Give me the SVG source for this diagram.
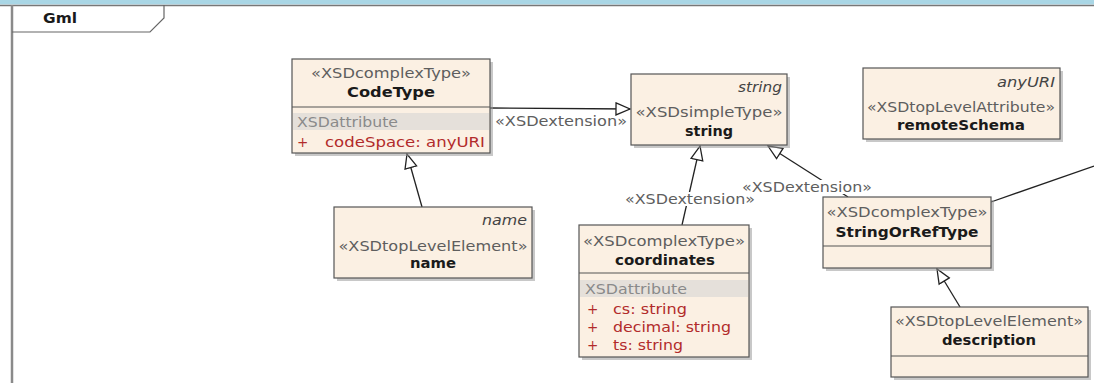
<svg xmlns="http://www.w3.org/2000/svg" width="1094" height="383" viewBox="0 0 1094 383">
<style>
.box{fill:#FBF0E3;stroke:#555;stroke-width:1.2}
.sh{fill:#9a9a9a;opacity:.55}
.div{stroke:#555;stroke-width:1.2}
.band{fill:#E5E0DA}
text{font-family:"DejaVu Sans",Verdana,sans-serif;font-size:13.5px}
.st{fill:#5e5e5e}
.nm{font-weight:bold;fill:#1a1a1a;font-size:14px}
.it{font-style:italic;fill:#444}
.ah{fill:#8a8a8a}
.at{fill:#b22b2b}
.c{text-anchor:middle}
.e{text-anchor:end}
.ln{stroke:#222;stroke-width:1.3;fill:none}
.bg{fill:#fff}
</style>
<defs>
<marker id="gen" viewBox="0 -8 16 16" refX="15" refY="0" markerWidth="16" markerHeight="16" markerUnits="userSpaceOnUse" orient="auto">
<path d="M1,-6 L15,0 L1,6 Z" fill="#fff" stroke="#222" stroke-width="1.3"/>
</marker>
</defs>
<rect width="1094" height="383" fill="#fff"/>
<g id="frame">
<rect x="0" y="0" width="1094" height="4.5" fill="#A9D6E5"/>
<line x1="0" y1="5.5" x2="1094" y2="5.5" stroke="#777" stroke-width="1.5"/>
<line x1="12" y1="5" x2="12" y2="383" stroke="#8a8a8a" stroke-width="2.5"/>
<path d="M12,32 L150,32 L164,18 L164,5" fill="none" stroke="#666" stroke-width="1.2"/>
<text x="43" y="23" class="nm" textLength="34" lengthAdjust="spacingAndGlyphs">Gml</text>
</g>
<g id="connectors">
<line class="ln" x1="490" y1="108" x2="630" y2="109" marker-end="url(#gen)"/>
<line class="ln" x1="422" y1="207" x2="407" y2="154" marker-end="url(#gen)"/>
<line class="ln" x1="682" y1="225" x2="700" y2="146" marker-end="url(#gen)"/>
<line class="ln" x1="848" y1="197" x2="768" y2="146" marker-end="url(#gen)"/>
<line class="ln" x1="991" y1="202" x2="1094" y2="166"/>
<line class="ln" x1="960" y1="307" x2="937" y2="269" marker-end="url(#gen)"/>
<text x="495" y="126" class="st" textLength="132" lengthAdjust="spacingAndGlyphs">«XSDextension»</text>
<rect class="bg" x="624" y="192" width="132" height="14"/>
<text x="625" y="204" class="st" textLength="130" lengthAdjust="spacingAndGlyphs">«XSDextension»</text>
<rect class="bg" x="741" y="180" width="132" height="14"/>
<text x="742" y="192" class="st" textLength="130" lengthAdjust="spacingAndGlyphs">«XSDextension»</text>
</g>
<g id="CodeType">
<rect class="sh" x="295" y="62" width="198" height="94"/>
<rect class="box" x="292" y="59" width="198" height="94"/>
<line class="div" x1="292" y1="107" x2="490" y2="107"/>
<text x="391" y="78" class="st c" textLength="160" lengthAdjust="spacingAndGlyphs">«XSDcomplexType»</text>
<text x="391" y="97" class="nm c" textLength="88" lengthAdjust="spacingAndGlyphs">CodeType</text>
<rect class="band" x="293" y="113" width="196" height="17"/>
<text x="297" y="127" class="ah" textLength="101" lengthAdjust="spacingAndGlyphs">XSDattribute</text>
<text x="297" y="147" class="at">+</text>
<text x="325" y="147" class="at" textLength="160" lengthAdjust="spacingAndGlyphs">codeSpace:  anyURI</text>
</g>
<g id="string">
<rect class="sh" x="634" y="77" width="156" height="71"/>
<rect class="box" x="631" y="74" width="156" height="71"/>
<text x="782" y="92" class="it e" textLength="44" lengthAdjust="spacingAndGlyphs">string</text>
<text x="709" y="117" class="st c" textLength="147" lengthAdjust="spacingAndGlyphs">«XSDsimpleType»</text>
<text x="709" y="136" class="nm c" textLength="48" lengthAdjust="spacingAndGlyphs">string</text>
</g>
<g id="remoteSchema">
<rect class="sh" x="866" y="71" width="197" height="71"/>
<rect class="box" x="863" y="68" width="197" height="71"/>
<text x="1055" y="87" class="it e" textLength="58" lengthAdjust="spacingAndGlyphs">anyURI</text>
<text x="961" y="112" class="st c" textLength="188" lengthAdjust="spacingAndGlyphs">«XSDtopLevelAttribute»</text>
<text x="961" y="130" class="nm c" textLength="128" lengthAdjust="spacingAndGlyphs">remoteSchema</text>
</g>
<g id="name">
<rect class="sh" x="337" y="210" width="198" height="71"/>
<rect class="box" x="334" y="207" width="198" height="71"/>
<text x="527" y="225" class="it e" textLength="45" lengthAdjust="spacingAndGlyphs">name</text>
<text x="433" y="251" class="st c" textLength="189" lengthAdjust="spacingAndGlyphs">«XSDtopLevelElement»</text>
<text x="433" y="268" class="nm c" textLength="46" lengthAdjust="spacingAndGlyphs">name</text>
</g>
<g id="coordinates">
<rect class="sh" x="582" y="228" width="170" height="132"/>
<rect class="box" x="579" y="225" width="170" height="132"/>
<line class="div" x1="579" y1="273" x2="749" y2="273"/>
<text x="664" y="246" class="st c" textLength="162" lengthAdjust="spacingAndGlyphs">«XSDcomplexType»</text>
<text x="665" y="265" class="nm c" textLength="100" lengthAdjust="spacingAndGlyphs">coordinates</text>
<rect class="band" x="580" y="280" width="168" height="17"/>
<text x="585" y="294" class="ah" textLength="102" lengthAdjust="spacingAndGlyphs">XSDattribute</text>
<text x="587" y="314" class="at">+</text>
<text x="613" y="314" class="at" textLength="74" lengthAdjust="spacingAndGlyphs">cs:  string</text>
<text x="587" y="332" class="at">+</text>
<text x="613" y="332" class="at" textLength="118" lengthAdjust="spacingAndGlyphs">decimal:  string</text>
<text x="587" y="350" class="at">+</text>
<text x="613" y="350" class="at" textLength="70" lengthAdjust="spacingAndGlyphs">ts:  string</text>
</g>
<g id="StringOrRefType">
<rect class="sh" x="826" y="200" width="168" height="71"/>
<rect class="box" x="823" y="197" width="168" height="71"/>
<line class="div" x1="823" y1="246" x2="991" y2="246"/>
<text x="907" y="217" class="st c" textLength="161" lengthAdjust="spacingAndGlyphs">«XSDcomplexType»</text>
<text x="907" y="237" class="nm c" textLength="143" lengthAdjust="spacingAndGlyphs">StringOrRefType</text>
</g>
<g id="description">
<rect class="sh" x="894" y="310" width="197" height="70"/>
<rect class="box" x="891" y="307" width="197" height="70"/>
<line class="div" x1="891" y1="356" x2="1088" y2="356"/>
<text x="989" y="326" class="st c" textLength="188" lengthAdjust="spacingAndGlyphs">«XSDtopLevelElement»</text>
<text x="989" y="345" class="nm c" textLength="94" lengthAdjust="spacingAndGlyphs">description</text>
</g>
</svg>
